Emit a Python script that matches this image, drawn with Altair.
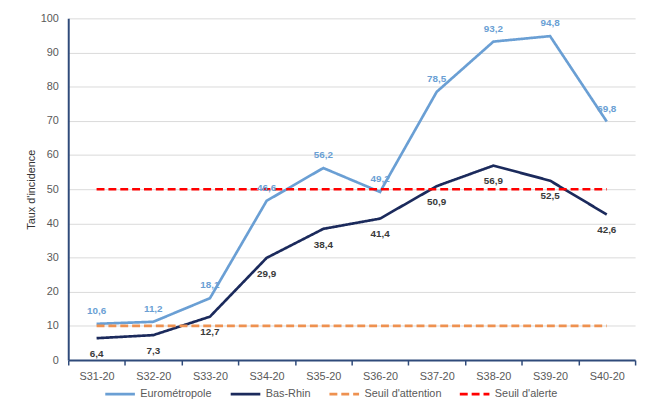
import altair as alt
import pandas as pd

weeks = ["S31-20", "S32-20", "S33-20", "S34-20", "S35-20",
         "S36-20", "S37-20", "S38-20", "S39-20", "S40-20"]
euro = [10.6, 11.2, 18.1, 46.6, 56.2, 49.2, 78.5, 93.2, 94.8, 69.8]
bas_rhin = [6.4, 7.3, 12.7, 29.9, 38.4, 41.4, 50.9, 56.9, 52.5, 42.6]
seuil_attention = [10, 10, 10, 10, 10, 10, 10, 10, 10, 10]
seuil_alerte = [50, 50, 50, 50, 50, 50, 50, 50, 50, 50]

series_names = ["Eurométropole", "Bas-Rhin", "Seuil d'attention", "Seuil d'alerte"]
series_colors = ["#6a9fd4", "#1b2a5c", "#ee9150", "#ff0000"]
series_dash = [[1, 0], [1, 0], [8, 4], [8, 4]]

rows = []
for name, vals in zip(series_names, [euro, bas_rhin, seuil_attention, seuil_alerte]):
    for w, v in zip(weeks, vals):
        rows.append({"semaine": w, "serie": name, "valeur": v})
df = pd.DataFrame(rows)

x_enc = alt.X(
    "semaine:N", sort=weeks, title=None, bandPosition=0.5,
    scale=alt.Scale(type="band", paddingInner=0, paddingOuter=0),
    axis=alt.Axis(labelAngle=0, tickBand="extent", domainColor="#2f4a7a", domainWidth=2,
                  tickColor="#2f4a7a", tickWidth=1.5, tickSize=5, labelColor="#595959",
                  labelFontSize=11, labelPadding=6, grid=False),
)
y_enc = alt.Y(
    "valeur:Q", title="Taux d'incidence",
    scale=alt.Scale(domain=[0, 100], nice=False),
    axis=alt.Axis(values=list(range(0, 101, 10)), ticks=False, domainColor="#2f4a7a",
                  domainWidth=2, gridColor="#d9d9d9", labelColor="#595959",
                  labelFontSize=11, labelPadding=10, titleFontSize=11,
                  titleFontWeight="normal", titleColor="#333333", titlePadding=4),
)

lines = alt.Chart(df).mark_line(strokeWidth=2.7).encode(
    x=x_enc,
    y=y_enc,
    color=alt.Color("serie:N", sort=series_names, title=None,
                    scale=alt.Scale(domain=series_names, range=series_colors),
                    legend=alt.Legend(orient="none", legendX=36, legendY=364, direction="horizontal",
                                      symbolType="stroke", symbolSize=900, symbolStrokeWidth=3,
                                      labelFontSize=11, labelColor="#595959", labelOffset=4,
                                      columnPadding=12, gridAlign="none")),
    strokeDash=alt.StrokeDash("serie:N", sort=series_names, title=None,
                              scale=alt.Scale(domain=series_names, range=series_dash)),
)

label_expr = "replace(format(datum.valeur, '.1f'), '.', ',')"

euro_labels = alt.Chart(df).transform_filter(
    alt.datum.serie == "Eurométropole"
).transform_calculate(lab=label_expr).mark_text(
    dy=-13, fontSize=10, fontWeight="bold", color="#6a9fd4"
).encode(x=x_enc, y=y_enc, text="lab:N")

br_labels = alt.Chart(df).transform_filter(
    alt.datum.serie == "Bas-Rhin"
).transform_calculate(lab=label_expr).mark_text(
    dy=16, fontSize=10, fontWeight="bold", color="#3a3a3a"
).encode(x=x_enc, y=y_enc, text="lab:N")

chart = alt.layer(lines, euro_labels, br_labels).properties(
    width=574, height=346,
    autosize=alt.AutoSizeParams(type="none"),
    padding={"left": 61, "top": 8, "right": 8, "bottom": 42},
).configure(
    font="Liberation Sans",
).configure_view(stroke=None)

chart.save("out.html", embed_options={"renderer": "svg", "actions": False})
